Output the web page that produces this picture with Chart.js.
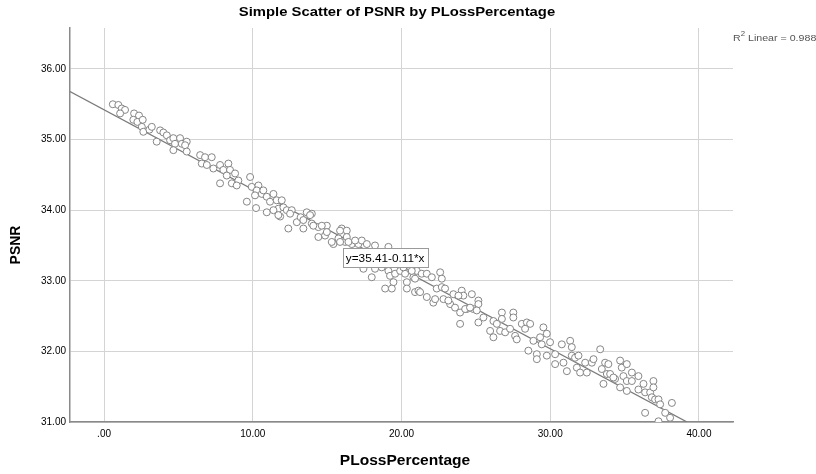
<!DOCTYPE html>
<html>
<head>
<meta charset="utf-8">
<script src="https://cdn.jsdelivr.net/npm/chart.js@4.4.1/dist/chart.umd.min.js"></script>
<style>
  html, body { margin: 0; padding: 0; background: #fff; }
  #wrap { width: 816px; height: 474px; position: relative; }
</style>
</head>
<body>
<div id="wrap"><canvas id="chart"></canvas></div>
<script>
// ---------------------- Data ----------------------
const pLoss = [
  0.59,0.96,1.19,1.41,1.08,2.02,2.35,1.97,2.24,2.60,2.54,2.64,3.05,3.21,3.54,3.77,3.99,4.22,4.44,4.66,4.77,5.11,4.66,5.23,5.56,
  5.45,5.56,6.46,6.79,7.24,6.57,6.91,7.35,7.80,8.36,8.02,8.47,8.81,8.25,7.80,8.59,9.03,8.92,9.82,9.93,10.38,10.27,9.60,10.22,10.61,
  10.94,11.39,11.16,11.61,11.95,11.72,12.06,12.29,12.62,10.94,11.84,12.39,12.96,13.22,13.63,13.97,13.40,
  13.40,13.97,14.41,14.98,14.86,15.42,15.98,16.32,15.76,16.21,16.66,17.10,17.33,17.67,18.22,19.12,17.44,18.00,18.22,18.67,
  19.12,19.23,19.57,19.46,18.90,19.35,19.91,20.24,20.58,20.80,20.36,20.36,21.03,21.36,21.70,20.91,21.14,21.70,22.14,22.04,22.37,22.60,
  22.71,22.71,22.82,23.49,24.05,24.16,24.73,23.27,23.60,23.94,24.39,24.83,25.17,25.17,23.94,25.17,25.51,26.18,26.75,26.75,
  27.52,27.52,25.96,26.18,26.41,26.63,26.97,27.30,27.64,27.75,28.09,28.43,28.65,28.31,28.87,29.32,29.54,29.77,29.43,28.53,
  29.10,29.10,29.77,29.99,30.33,30.33,
  30.78,30.89,31.12,31.34,31.45,31.45,31.67,31.90,31.79,32.01,32.35,32.46,32.80,32.91,33.36,33.47,33.69,33.91,33.58,33.81,
  34.03,34.36,34.70,34.81,34.92,35.15,35.49,34.70,35.15,35.15,35.49,35.93,35.93,36.27,36.38,36.72,36.94,36.94,36.83,37.05,
  37.28,37.39,36.38,37.73,38.06,38.18,37.28,34.25,
  10.71,10.15,11.39,11.72,12.51,13.85,14.41,14.07,14.64,14.98,15.31,15.87,16.32,16.43,16.88,15.87,
  20.13,20.69,20.91,21.25,22.26,22.93,23.15,23.83,24.28,24.61,25.06
];
const psnr = [
  35.50,35.49,35.44,35.42,35.37,35.37,35.34,35.28,35.25,35.28,35.18,35.11,35.14,35.18,34.97,35.13,35.10,35.06,34.99,35.02,34.94,35.02,34.85,34.94,34.97,
  34.92,34.83,34.78,34.75,34.75,34.66,34.64,34.59,34.64,34.66,34.57,34.57,34.52,34.49,34.38,34.38,34.42,34.35,34.47,34.33,34.35,34.28,34.12,34.03,34.23,
  34.19,34.23,34.12,34.14,34.14,34.02,34.04,34.00,34.00,33.97,33.91,33.74,33.83,33.90,33.97,33.95,33.86,
  33.74,33.81,33.76,33.78,33.64,33.52,33.74,33.71,33.60,33.55,33.52,33.52,33.57,33.52,33.50,33.48,33.17,33.05,33.17,33.19,
  33.14,33.07,33.10,32.98,32.89,32.89,33.14,33.10,33.19,33.05,32.98,32.89,33.14,33.10,33.10,32.84,32.86,32.77,32.69,33.05,32.89,33.12,
  33.03,32.91,32.74,32.81,32.86,32.79,32.81,32.67,32.62,32.55,32.60,32.60,32.72,32.67,32.39,32.41,32.48,32.43,32.55,32.46,
  32.55,32.48,32.29,32.20,32.39,32.29,32.27,32.32,32.22,32.17,32.39,32.41,32.39,32.32,32.15,32.20,32.34,32.25,32.10,32.01,
  31.96,31.89,31.94,32.13,31.96,31.82,
  32.10,31.84,31.72,32.15,32.06,31.94,31.91,31.94,31.77,31.70,31.84,31.70,31.84,31.89,32.03,31.75,31.84,31.82,31.54,31.68,
  31.68,31.61,31.87,31.77,31.65,31.82,31.70,31.49,31.44,31.58,31.58,31.65,31.46,31.54,31.42,31.42,31.58,31.49,31.35,31.32,
  31.32,31.25,31.13,31.13,31.06,31.27,31.01,31.63,
  34.28,34.21,34.00,33.93,33.95,33.93,33.62,33.78,33.78,33.69,33.55,33.71,33.62,33.55,33.57,33.55,
  33.19,33.14,33.03,32.84,32.74,32.89,32.72,32.79,32.60,32.62,32.58
];

// fit line ends, as seen on the picture
const fitX = [-2.29, 39.2];
const fitY = [35.68, 31.0];

const xTicks = [0, 10, 20, 30, 40];
const yTicks = [31, 32, 33, 34, 35, 36];

const TITLE = 'Simple Scatter of PSNR by PLossPercentage';
const X_TITLE = 'PLossPercentage';
const Y_TITLE = 'PSNR';
const EQUATION = 'y=35.41-0.11*x';
const EQ_POS = { x: 18.9, y: 33.33 };
const R2_TEXT = ' Linear = 0.988';

// ---------------------- Helpers ----------------------
const fmt = (v) => (v === 0 ? '.00' : v.toFixed(2));
const FONT = '"Liberation Sans", Arial, sans-serif';

// the picture is a bit wider than tall, so text gets a horizontal stretch
function wideText(ctx, text, x, y, sx) {
  ctx.save();
  ctx.translate(x, y);
  ctx.scale(sx, 1);
  ctx.fillText(text, 0, 0);
  ctx.restore();
}

const textPlugin = {
  id: 'spssText',
  afterDraw(chart) {
    const { ctx, scales } = chart;
    ctx.save();
    ctx.fillStyle = '#000';
    ctx.textAlign = 'center';
    ctx.textBaseline = 'middle';

    // title
    ctx.font = 'bold 13px ' + FONT;
    wideText(ctx, TITLE, 397, 12, 1.14);

    // axis titles
    ctx.font = 'bold 14px ' + FONT;
    wideText(ctx, X_TITLE, 405, 461, 1.11);
    ctx.save();
    ctx.translate(16, 245);
    ctx.rotate(-Math.PI / 2);
    ctx.scale(1, 1.1);
    ctx.fillText(Y_TITLE, 0, 0);
    ctx.restore();

    // R² label
    ctx.fillStyle = '#555';
    ctx.textAlign = 'left';
    const sx = 1.12;
    ctx.font = '9.5px ' + FONT;
    wideText(ctx, 'R', 733, 38, sx);
    const rw = ctx.measureText('R').width * sx;
    ctx.font = '7px ' + FONT;
    wideText(ctx, '2', 733 + rw, 34, sx);
    const sw = ctx.measureText('2').width * sx;
    ctx.font = '9.5px ' + FONT;
    wideText(ctx, R2_TEXT, 733 + rw + sw, 38, sx);

    // equation box
    const px = scales.x.getPixelForValue(EQ_POS.x);
    const py = scales.y.getPixelForValue(EQ_POS.y);
    ctx.font = '11px ' + FONT;
    const w = ctx.measureText(EQUATION).width * 1.07 + 6;
    const h = 19;
    ctx.fillStyle = '#fff';
    ctx.fillRect(px - w / 2, py - h / 2, w, h);
    ctx.strokeStyle = '#9a9a9a';
    ctx.lineWidth = 1;
    ctx.strokeRect(Math.round(px - w / 2) + 0.5, Math.round(py - h / 2) + 0.5, Math.round(w), h);
    ctx.fillStyle = '#000';
    ctx.textAlign = 'center';
    wideText(ctx, EQUATION, px, py + 1, 1.07);
    ctx.restore();
  },
};

// ---------------------- Chart ----------------------
new Chart(document.getElementById('chart'), {
  type: 'scatter',
  data: {
    datasets: [
      {
        type: 'line',
        data: fitX.map((x, i) => ({ x, y: fitY[i] })),
        borderColor: '#7a7a7a',
        borderWidth: 1.3,
        pointRadius: 0,
        fill: false,
        order: 2,
      },
      {
        data: pLoss.map((x, i) => ({ x, y: psnr[i] })),
        pointRadius: 3.5,
        pointBackgroundColor: '#fff',
        pointBorderColor: '#858585',
        pointBorderWidth: 1,
        order: 1,
      },
    ],
  },
  options: {
    responsive: true,
    maintainAspectRatio: false,
    animation: false,
    events: [],
    layout: { padding: { top: 28, right: 83, left: 0, bottom: 0 } },
    plugins: { legend: { display: false }, title: { display: false }, tooltip: { enabled: false } },
    scales: {
      x: {
        type: 'linear',
        min: -2.29,
        max: 42.29,
        afterBuildTicks: (s) => { s.ticks = xTicks.map(v => ({ value: v })); },
        afterFit: (s) => { s.height = 52; },
        ticks: { callback: fmt, color: '#000', font: { family: FONT, size: 10 }, padding: 6, maxRotation: 0 },
        grid: { color: '#d4d4d4', lineWidth: 1, drawTicks: false },
        border: { color: '#8a8a8a', width: 1.5 },
      },
      y: {
        type: 'linear',
        min: 31,
        max: 36.58,
        afterBuildTicks: (s) => { s.ticks = yTicks.map(v => ({ value: v })); },
        afterFit: (s) => { s.width = 70; },
        ticks: { callback: fmt, color: '#000', font: { family: FONT, size: 10 }, padding: 4 },
        grid: { color: '#d4d4d4', lineWidth: 1, drawTicks: false },
        border: { color: '#8a8a8a', width: 1.5 },
      },
    },
  },
  plugins: [textPlugin],
});
</script>
</body>
</html>
